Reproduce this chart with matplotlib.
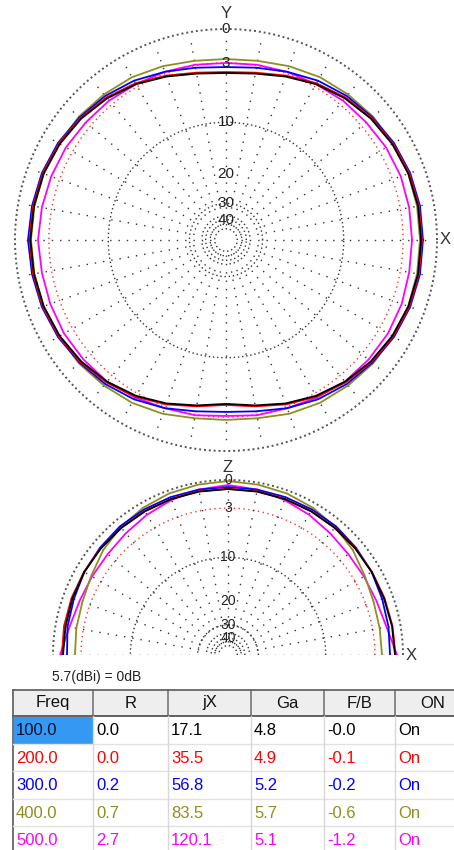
import numpy as np
import matplotlib
matplotlib.use("Agg")
import matplotlib.pyplot as plt
from matplotlib.patches import Rectangle

plt.rcParams['font.family'] = ['Liberation Sans', 'DejaVu Sans']

W, H = 454, 850

# Pattern data, dB relative to 5.7 dBi (= 0 dB)
# azimuth cut, every 10 deg counter-clockwise from X
az_angles = np.arange(0, 361, 10)
az_100 = [-1.35, -1.35, -1.44, -1.62, -1.89, -2.26, -2.73, -3.31, -3.81, -4.01,
          -3.81, -3.31, -2.73, -2.26, -1.89, -1.62, -1.44, -1.35, -1.30,
          -1.35, -1.44, -1.62, -1.89, -2.26, -2.73, -3.31, -3.91, -4.33,
          -3.91, -3.31, -2.73, -2.26, -1.89, -1.62, -1.44, -1.35, -1.35]
az_200 = [-1.27, -1.27, -1.35, -1.53, -1.80, -2.16, -2.63, -3.21, -3.71, -3.91,
          -3.71, -3.21, -2.63, -2.16, -1.80, -1.53, -1.35, -1.27, -1.22,
          -1.27, -1.35, -1.53, -1.80, -2.16, -2.63, -3.21, -3.81, -4.22,
          -3.81, -3.21, -2.63, -2.16, -1.80, -1.53, -1.35, -1.27, -1.27]
az_300 = [-1.18, -1.18, -1.27, -1.44, -1.71, -1.98, -2.35, -2.82, -3.21, -3.41,
          -3.21, -2.82, -2.35, -1.98, -1.71, -1.44, -1.27, -1.18, -1.09,
          -1.18, -1.27, -1.44, -1.71, -1.98, -2.35, -2.82, -3.31, -3.51,
          -3.31, -2.82, -2.35, -1.98, -1.71, -1.44, -1.27, -1.18, -1.18]
az_400 = [-1.44, -1.44, -1.44, -1.53, -1.62, -1.80, -1.98, -2.26, -2.54, -2.63,
          -2.54, -2.26, -1.98, -1.80, -1.62, -1.53, -1.44, -1.40, -1.35,
          -1.40, -1.44, -1.53, -1.62, -1.80, -1.98, -2.26, -2.63, -2.73,
          -2.63, -2.26, -1.98, -1.80, -1.62, -1.53, -1.44, -1.44, -1.44]
az_500 = [-2.16, -2.16, -2.16, -2.26, -2.44, -2.54, -2.73, -2.82, -2.92, -3.01,
          -2.92, -2.82, -2.73, -2.54, -2.44, -2.26, -2.16, -2.07, -1.98,
          -2.07, -2.07, -2.07, -2.16, -2.26, -2.54, -2.82, -2.92, -3.11,
          -2.92, -2.82, -2.54, -2.26, -2.16, -2.07, -2.07, -2.16, -2.16]

# elevation cut, 0..180 deg from X through Z
el_angles = np.arange(0, 181, 10)
el_100 = [-0.80, -0.85, -0.91, -0.91, -0.91, -0.91, -0.91, -0.91, -0.91, -0.91,
          -0.91, -0.91, -0.91, -0.91, -0.91, -0.91, -0.95, -1.01, -1.01]
el_200 = [-0.75, -0.80, -0.85, -0.88, -0.88, -0.88, -0.88, -0.88, -0.88, -0.88,
          -0.88, -0.88, -0.88, -0.88, -0.88, -0.88, -0.85, -0.85, -0.90]
el_300 = [-1.32, -1.22, -1.11, -0.91, -0.80, -0.70, -0.70, -0.70, -0.70, -0.70,
          -0.70, -0.70, -0.70, -0.70, -0.80, -0.91, -1.11, -1.22, -1.43]
el_400 = [-2.19, -2.19, -2.08, -1.75, -1.22, -0.80, -0.50, -0.30, -0.20, -0.10,
          -0.20, -0.30, -0.50, -0.80, -1.22, -1.75, -2.08, -2.19, -2.30]
el_500 = [-0.60, -1.43, -1.75, -1.86, -1.86, -1.65, -1.32, -1.01, -0.70, -0.50,
          -0.70, -1.01, -1.32, -1.65, -1.86, -1.86, -1.75, -1.43, -0.70]

# table
freq = [100.0, 200.0, 300.0, 400.0, 500.0]
res_r = [0.0, 0.0, 0.2, 0.7, 2.7]
res_jx = [17.1, 35.5, 56.8, 83.5, 120.1]
gain = [4.8, 4.9, 5.2, 5.7, 5.1]
fb = [-0.0, -0.1, -0.2, -0.6, -1.2]
on = ["On", "On", "On", "On", "On"]
headers = ["Freq", "R", "jX", "Ga", "F/B", "ON"]
colors = ["#000000", "#ff0000", "#0000ff", "#8f8f1f", "#ff00ff"]

grid_labels = [0, -3, -10, -20, -30, -40]


# ARRL style log radial scale
def fwd(db):
    return 0.89 ** (-np.asarray(db, dtype=float) / 2)


def inv(r):
    return -2 * np.log(np.asarray(r, dtype=float)) / np.log(0.89)


def draw_grid(ax, spokes, full=True, fs=11):
    th = np.radians(np.linspace(0, 360 if full else 180, 361))
    for lev in [-10, -30, -40, -50]:
        ax.plot(th, np.full_like(th, lev), color="#333333", lw=1.0, ls=(0, (1, 2)))
    ax.plot(th, np.full_like(th, -3), color="#ff3030", lw=1.0, ls=(0, (1, 2.5)))
    ax.plot(th, np.full_like(th, 0), color="#555555", lw=1.4, ls=(0, (1, 1.5)), clip_on=False)
    for a in spokes:
        ax.plot([np.radians(a)] * 2, [-45, -0.4], color="#333333", lw=1.0, ls=(0, (1, 5)))
    for lev in grid_labels:
        ax.text(np.pi / 2, lev, str(abs(lev)), ha="center", va="center",
                fontsize=fs, color="#222222")


def draw_traces(ax, angles, series):
    th = np.radians(angles)
    for vals, c in reversed(list(zip(series, colors))):
        ax.plot(th, vals, color=c, lw=1.3)


fig = plt.figure(figsize=(W / 100, H / 100), dpi=100)

# top: azimuth pattern
ax1 = fig.add_axes([15 / W, 1 - 451 / H, 422 / W, 422 / H], projection="polar")
ax1.set_rscale("function", functions=(fwd, inv))
ax1.set_rlim(-120, 0)
ax1.set_axis_off()
draw_grid(ax1, range(0, 360, 10))
draw_traces(ax1, az_angles, [az_100, az_200, az_300, az_400, az_500])

# bottom: elevation pattern (half disk sits in the middle of a square box)
ax2 = fig.add_axes([53 / W, 1 - 742.5 / H, 350 / W, 350 / H], projection="polar")
ax2.set_rscale("function", functions=(fwd, inv))
ax2.set_thetamin(0)
ax2.set_thetamax(180)
ax2.set_rlim(-120, 0)
ax2.set_axis_off()
draw_grid(ax2, range(0, 181, 10), full=False, fs=10)
draw_traces(ax2, el_angles, [el_100, el_200, el_300, el_400, el_500])

fig.text(226 / W, 1 - 14 / H, "Y", ha="center", va="center", fontsize=12, color="#333333")
fig.text(445 / W, 1 - 240 / H, "X", ha="center", va="center", fontsize=12, color="#333333")
fig.text(228 / W, 1 - 467 / H, "Z", ha="center", va="center", fontsize=12, color="#333333")
fig.text(411 / W, 1 - 656 / H, "X", ha="center", va="center", fontsize=12, color="#333333")

# table
ax3 = fig.add_axes([0, 0, 1, 190 / H])
ax3.set_xlim(0, W)
ax3.set_ylim(850, 660)
ax3.set_axis_off()
ax3.text(52, 677, "5.7(dBi) = 0dB", ha="left", va="center", fontsize=10, color="#222222")

col_x = [13, 93, 168, 251, 324, 395, 470]
top, head_h, row_h = 690, 26, 27.5
for j, name in enumerate(headers):
    x0, x1 = col_x[j], col_x[j + 1]
    ax3.add_patch(Rectangle((x0, top), x1 - x0, head_h, facecolor="#eeeeee",
                            edgecolor="none"))
    ax3.plot([x1, x1], [top, top + head_h], color="#777777", lw=1.2)
    ax3.text((x0 + x1) / 2, top + head_h / 2, name, ha="center", va="center",
             fontsize=12, color="#111111")
ax3.plot([13, 470], [top + head_h, top + head_h], color="#555555", lw=1.3)
ax3.plot([13, 470], [top, top], color="#666666", lw=1.3)
ax3.plot([13, 13], [top, 860], color="#666666", lw=1.3)

rows = list(zip(freq, res_r, res_jx, gain, fb))
for i, vals in enumerate(rows):
    y0 = top + head_h + i * row_h
    cells = [f"{v:.1f}" for v in vals] + [on[i]]
    for j, txt in enumerate(cells):
        x0, x1 = col_x[j], col_x[j + 1]
        tc = colors[i]
        if i == 0 and j == 0:
            ax3.add_patch(Rectangle((x0 + 1, y0 + 1), x1 - x0 - 1, row_h - 1,
                                    facecolor="#3399f3", edgecolor="none"))
            tc = "#101030"
        ax3.text(x0 + 3, y0 + row_h / 2 + 1, txt, ha="left", va="center",
                 fontsize=12, color=tc)
        if j > 0:
            ax3.plot([x0, x0], [y0, y0 + row_h], color="#d8d8d8", lw=1.0)
    ax3.plot([13, 470], [y0 + row_h, y0 + row_h], color="#e2e2e2", lw=1.0)

fig.savefig("out.png", dpi=100)
